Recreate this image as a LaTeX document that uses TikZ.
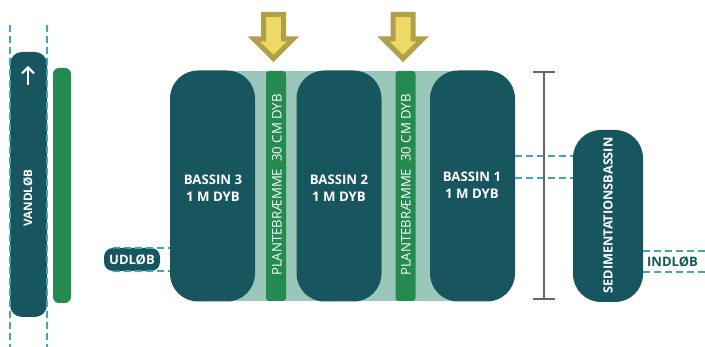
\documentclass[tikz,border=0pt]{standalone}
\usepackage{fontspec}
\setmainfont{Open Sans}
\usepackage{tikz}
\usetikzlibrary{calc,arrows.meta}
\definecolor{basinteal}{HTML}{17565E}
\definecolor{plantgreen}{HTML}{248A50}
\definecolor{shallow}{HTML}{9AC7BA}
\definecolor{flowdash}{HTML}{3FA8B2}
\definecolor{arrowfill}{HTML}{EFD966}
\definecolor{arrowedge}{HTML}{B0A047}
\definecolor{scalegray}{HTML}{666666}
\tikzset{
  basin/.style={fill=basinteal,rounded corners=28pt,inner sep=0pt},
  basinlabel/.style={text=white,inner sep=0pt,align=center,font=\fontsize{13.2}{16.5}\selectfont\bfseries},
  strip/.style={fill=plantgreen,rounded corners=3pt,inner sep=0pt,minimum width=20pt,minimum height=230pt},
  striplabel/.style={text=white,rotate=90,inner sep=0pt,font=\fontsize{13.2}{16}\selectfont},
  flow/.style={flowdash,line width=1.8pt,dash pattern=on 7pt off 4pt},
}
\begin{document}
\begin{tikzpicture}[x=1pt,y=-1pt]
  \useasboundingbox (0,0) rectangle (705,347);
  % shallow zone behind the basins
  \node[fill=shallow,inner sep=0pt,minimum width=231pt,minimum height=230pt] (shallowzone) at (342.5,186) {};
  % basins
  \node[basin,minimum width=85pt,minimum height=231pt] (bassinthree) at (212.5,186) {};
  \node[basin,minimum width=85pt,minimum height=231pt] (bassintwo) at (339,186) {};
  \node[basin,minimum width=85pt,minimum height=231pt] (bassinone) at (472.5,186) {};
  \node[basinlabel] (bassinthreelabel) at (213,188) {BASSIN 3\\1 M DYB};
  \node[basinlabel] (bassintwolabel) at (339,188) {BASSIN 2\\1 M DYB};
  \node[basinlabel] (bassinonelabel) at (472,185) {BASSIN 1\\1 M DYB};
  \node[basin,minimum width=70pt,minimum height=172pt] (sediment) at (608,216) {};
  \node[text=white,rotate=90,inner sep=0pt,font=\fontsize{12.7}{14}\selectfont\bfseries] (sedimentlabel) at (608,215.5) {SEDIMENTATIONSBASSIN};
  % plant strips
  \node[strip] (stripleft) at (276,186) {};
  \node[striplabel] (stripleftlabel) at (277,185) {PLANTEBRÆMME\ \ 30 CM DYB};
  \node[strip] (stripright) at (405.5,186) {};
  \node[striplabel] (striprightlabel) at (406,185) {PLANTEBRÆMME\ \ 30 CM DYB};
  % stream and its bank
  \node[fill=basinteal,rounded corners=12pt,inner sep=0pt,minimum width=37pt,minimum height=265pt] (vandlob) at (28.5,184.5) {};
  \node[text=white,rotate=90,inner sep=0pt,font=\fontsize{11.7}{14}\selectfont\bfseries] (vandloblabel) at (28,198) {VANDLØB};
  \node[fill=plantgreen,rounded corners=6pt,inner sep=0pt,minimum width=18pt,minimum height=235pt] (bank) at (62,185.5) {};
  \coordinate (streamstart) at (28,85);
  \coordinate (streamend) at (28,66);
  \draw[white,line width=2pt,-{Straight Barb[length=6pt,width=12pt]}] (streamstart) -- (streamend);
  \coordinate (bankleftup) at (10,25);
  \coordinate (bankleftdown) at (10,347);
  \coordinate (bankrightup) at (47,25);
  \coordinate (bankrightdown) at (47,347);
  \draw[flow] (bankleftup) -- (bankleftdown);
  \draw[flow] (bankrightup) -- (bankrightdown);
  % outlet
  \node[fill=basinteal,rounded corners=9pt,inner sep=0pt,minimum width=56pt,minimum height=23pt] (udlob) at (132,259.5) {};
  \node[text=white,inner sep=0pt,font=\fontsize{13}{14}\selectfont\bfseries] (udloblabel) at (132,260) {UDLØB};
  \draw[flow] ($(udlob.north west)+(9,0)$) -- (bassinthree.west |- 0,248);
  \draw[flow] ($(udlob.south west)+(9,0)$) -- (bassinthree.west |- 0,271);
  % links between the basins and the inlet
  \draw[flow] (bassinone.east |- 0,156) -- (sediment.west |- 0,156);
  \draw[flow] (bassinone.east |- 0,178) -- (sediment.west |- 0,178);
  \node[text=basinteal,inner sep=0pt,font=\fontsize{13}{14}\selectfont\bfseries] (indlob) at (672.5,261.5) {INDLØB};
  \coordinate (inletup) at (705,251);
  \coordinate (inletdown) at (705,272);
  \draw[flow] (sediment.east |- inletup) -- (inletup);
  \draw[flow] (sediment.east |- inletdown) -- (inletdown);
  % depth scale
  \coordinate (scaletop) at (544,71);
  \coordinate (scalebottom) at (544,300);
  \draw[scalegray,line width=2pt,{Bar[width=22pt]}-{Bar[width=22pt]}] (scaletop) -- (scalebottom);
  % plant inflow arrows
  \foreach \x in {273.5,403}
    \draw[arrowedge,fill=arrowfill,line width=5pt,miter limit=10]
      (\x-10,14.5) -- (\x+10,14.5) -- (\x+10,39) -- (\x+19.5,39) -- (\x,58.5)
      -- (\x-19.5,39) -- (\x-10,39) -- cycle;
\end{tikzpicture}
\end{document}
